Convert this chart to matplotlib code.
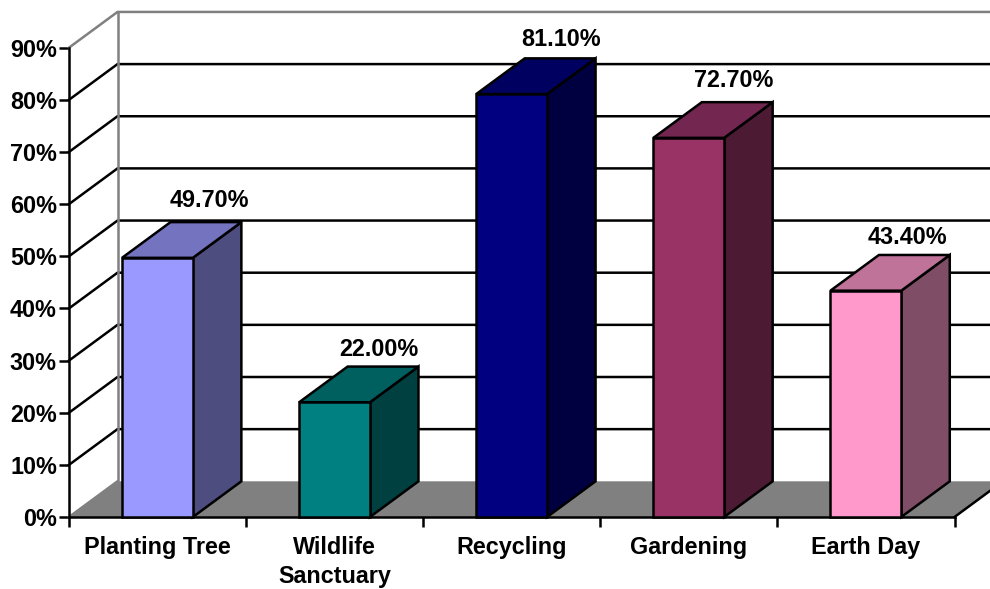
# plot.py
import matplotlib
matplotlib.use("Agg")
import matplotlib.pyplot as plt
from matplotlib.patches import Polygon

plt.rcParams["font.family"] = ["Liberation Sans", "DejaVu Sans"]

## Data
categories = ["Planting Tree", "Wildlife\nSanctuary", "Recycling", "Gardening", "Earth Day"]
values = [49.7, 22.0, 81.1, 72.7, 43.4]
front_colors = ["#9999FF", "#008080", "#000080", "#993366", "#FF99CC"]
top_colors = ["#7373BF", "#006060", "#000060", "#732650", "#BF7399"]
side_colors = ["#4D4D80", "#004040", "#000040", "#4D1A33", "#804D66"]
y_ticks = [0, 10, 20, 30, 40, 50, 60, 70, 80, 90]

## Layout, in pixels of the 990x589 picture
PX_LEFT = 69.0
PX_BASE = 517.0
PX_PER_CAT = 177.1
PX_PER_PCT = 5.215
DEPTH_X = 48.5 / PX_PER_CAT
DEPTH_Y = 35.7 / PX_PER_PCT
BAR_WIDTH = 0.4
BAR_SHIFT = -0.1 / PX_PER_CAT
LW = 1.8
FONT_SIZE = 16.8
# Value labels were placed by hand in the original, so each has its own nudge.
LABEL_DX = [52.0, 44.0, 49.0, 45.0, 41.5]
LABEL_DY = [22.0, 17.0, 19.0, 22.0, 17.0]

fig = plt.figure(figsize=(9.9, 5.89), dpi=100)
ax = fig.add_axes([0, 0, 1, 1])
ax.set_xlim(-PX_LEFT / PX_PER_CAT, (990 - PX_LEFT) / PX_PER_CAT)
ax.set_ylim((PX_BASE - 589) / PX_PER_PCT, PX_BASE / PX_PER_PCT)
x_max = ax.get_xlim()[1]

# Floor, with the black front edge running off to the right.
n = len(categories)
ax.add_patch(Polygon([(0, 0), (DEPTH_X, DEPTH_Y), (n + DEPTH_X, DEPTH_Y), (n, 0)],
                     facecolor="#808080", edgecolor="none", zorder=1))
ax.plot([n, n + DEPTH_X], [0, DEPTH_Y], color="black", lw=LW, zorder=2)
ax.plot([0, DEPTH_X], [0, DEPTH_Y], color="#808080", lw=LW, zorder=2)

# Back wall and side wall grid lines.
for level in y_ticks[1:-1]:
  ax.plot([0, DEPTH_X, x_max], [level, level + DEPTH_Y, level + DEPTH_Y],
          color="black", lw=LW, zorder=2, solid_joinstyle="miter")
top = y_ticks[-1]
ax.plot([0, DEPTH_X, x_max], [top, top + DEPTH_Y, top + DEPTH_Y],
        color="#808080", lw=LW, zorder=2, solid_joinstyle="miter")
ax.plot([DEPTH_X, DEPTH_X], [DEPTH_Y, top + DEPTH_Y], color="#808080", lw=LW, zorder=2)

# Bars: front face from ax.bar, side and top faces as polygons.
centers = [i + 0.5 for i in range(n)]
for i, cx in enumerate(centers):
  val = values[i]
  bar_x = cx + BAR_SHIFT
  left = bar_x - BAR_WIDTH / 2
  right = bar_x + BAR_WIDTH / 2
  ax.add_patch(Polygon([(right, 0), (right + DEPTH_X, DEPTH_Y),
                        (right + DEPTH_X, val + DEPTH_Y), (right, val)],
                       facecolor=side_colors[i], edgecolor="black", lw=LW, zorder=4, joinstyle="miter"))
  ax.add_patch(Polygon([(left, val), (left + DEPTH_X, val + DEPTH_Y),
                        (right + DEPTH_X, val + DEPTH_Y), (right, val)],
                       facecolor=top_colors[i], edgecolor="black", lw=LW, zorder=4, joinstyle="miter"))
  ax.bar(bar_x, val, width=BAR_WIDTH, color=front_colors[i], edgecolor="black", linewidth=LW, zorder=5)
  ax.text(cx + LABEL_DX[i] / PX_PER_CAT, val + DEPTH_Y + LABEL_DY[i] / PX_PER_PCT, f"{val:.2f}%",
          ha="center", va="center", fontsize=FONT_SIZE, fontweight="bold", color="black", zorder=6)

# Axes: spines sit on the front edge of the box.
for name in ["top", "right"]:
  ax.spines[name].set_visible(False)
ax.spines["left"].set_position(("data", 0))
ax.spines["bottom"].set_position(("data", 0))
ax.spines["left"].set_bounds(0, top)
ax.spines["bottom"].set_bounds(0, n)
for name in ["left", "bottom"]:
  ax.spines[name].set_linewidth(LW)
  ax.spines[name].set_zorder(3)

ax.set_yticks(y_ticks)
ax.set_yticklabels([f"{t}%" for t in y_ticks], fontsize=FONT_SIZE, fontweight="bold")
ax.tick_params(axis="y", length=7.2, width=LW, pad=1.5)
ax.set_xticks(range(n + 1))
ax.set_xticklabels([])
ax.tick_params(axis="x", which="major", length=7.2, width=LW)
ax.set_xticks(centers, minor=True)
ax.set_xticklabels(categories, minor=True, fontsize=FONT_SIZE, fontweight="bold")
ax.tick_params(axis="x", which="minor", length=0, pad=13.5)
for label in ax.get_xticklabels(minor=True):
  label.set_linespacing(1.35)

fig.savefig("out.png", dpi=100)
